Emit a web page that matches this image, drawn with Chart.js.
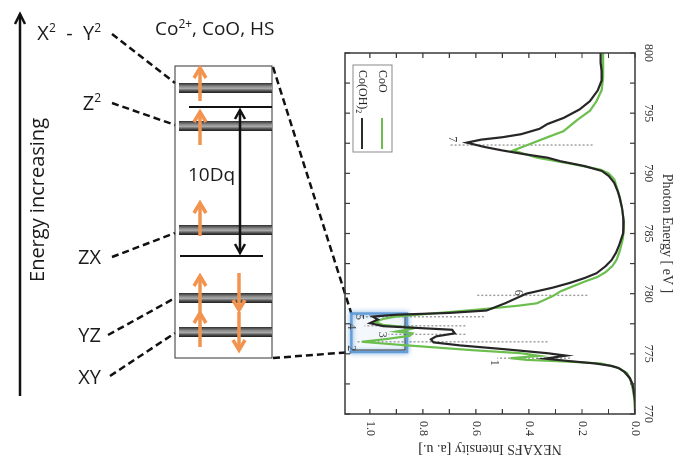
<!DOCTYPE html>
<html>
<head>
<meta charset="utf-8">
<script src="https://cdn.jsdelivr.net/npm/chart.js@4.4.0/dist/chart.umd.min.js"></script>
<style>
  html, body { margin: 0; padding: 0; background: #fff; }
  #wrap { position: relative; width: 675px; height: 457px; overflow: hidden; }
  #diagram { position: absolute; left: 0; top: 0; }
  /* spectrum is drawn upright then turned a quarter clockwise */
  #spectrum { position: absolute; left: 675px; top: 30px; transform-origin: 0 0; transform: rotate(90deg); }
</style>
</head>
<body>
<div id="wrap">
  <canvas id="diagram" width="675" height="457"></canvas>
  <canvas id="spectrum" width="427" height="335"></canvas>
</div>
<script>
/* Spectrum data: photon energy [eV] and NEXAFS intensity [a.u.] */
const coohEnergy = [770, 771, 772, 772.5, 773, 773.5, 773.8, 774.0, 774.2, 774.4, 774.6, 774.85, 775.05, 775.4, 775.7, 775.95,
  776.2, 776.45, 776.7, 777.0, 777.3, 777.55, 777.85, 778.1, 778.25, 778.4, 778.6, 779.2, 779.7, 780.0, 780.2, 780.5, 780.9,
  781.3, 781.7, 782.3, 782.8, 783.4, 784.0, 785.0, 786.0, 787.0, 788.0, 788.5, 789.2, 789.8, 790.2, 790.6, 791.0, 791.3, 791.6,
  791.9, 792.2, 792.55, 792.8, 793.0, 793.25, 793.7, 794.1, 794.6, 795.3, 796.0, 796.9, 797.7, 798.5, 799.2, 800];
const coohIntensity = [0, 0, 0.005, 0.01, 0.02, 0.04, 0.06, 0.09, 0.15, 0.25, 0.34, 0.26, 0.33, 0.5, 0.66, 0.76,
  0.77, 0.75, 0.68, 0.69, 0.95, 1.0, 0.97, 0.99, 0.9, 0.7, 0.56, 0.49, 0.44, 0.41, 0.37, 0.31, 0.245,
  0.19, 0.145, 0.11, 0.088, 0.072, 0.06, 0.045, 0.043, 0.048, 0.058, 0.065, 0.078, 0.1, 0.125, 0.19, 0.28, 0.33, 0.42,
  0.5, 0.57, 0.635, 0.58, 0.5, 0.43, 0.36, 0.33, 0.27, 0.21, 0.17, 0.14, 0.126, 0.126, 0.13, 0.13];

const cooEnergy = [770, 771.4, 772.6, 773.4, 773.9, 774.2, 774.36, 774.5, 774.64, 774.83, 775.05, 775.3, 775.75, 776.0,
  776.25, 776.5, 776.7, 776.85, 777.0, 777.15, 777.4, 777.65, 777.9, 778.1, 778.4, 778.7, 779.0, 779.2, 779.5, 779.8,
  780.2, 780.6, 781.0, 781.4, 781.8, 782.3, 782.8, 783.4, 784.0, 784.6, 785.4, 786.3, 787.3, 788.4, 789.5, 790.0, 790.3,
  790.75, 791.3, 791.9, 792.4, 793.0, 793.5, 794.4, 795.2, 796.0, 796.9, 798.0, 799.0, 800];
const cooIntensity = [0, 0.003, 0.013, 0.03, 0.07, 0.13, 0.26, 0.41, 0.47, 0.36, 0.43, 0.61, 0.89, 1.03,
  0.93, 0.85, 0.84, 0.9, 0.86, 0.83, 0.95, 0.98, 0.95, 0.9, 0.74, 0.58, 0.44, 0.37, 0.34, 0.31,
  0.28, 0.235, 0.19, 0.14, 0.11, 0.085, 0.07, 0.06, 0.052, 0.046, 0.042, 0.044, 0.05, 0.062, 0.078, 0.1, 0.13,
  0.23, 0.37, 0.46, 0.40, 0.33, 0.27, 0.22, 0.17, 0.145, 0.126, 0.12, 0.12, 0.12];

// numbered features: energy, dotted span, label spot
const peakLabels = ['1', '2', '3', '4', '5', '6', '7'];
const peakEnergy = [774.64, 776.0, 776.62, 777.33, 778.08, 779.86, 792.35];
const peakLow = [0.245, 0.33, 0.64, 0.64, 0.57, 0.18, 0.16];
const peakHigh = [0.52, 1.05, 0.93, 1.02, 1.04, 0.60, 0.70];
const peakLabelEnergy = [774.25, 775.47, 776.58, 777.28, 778.06, 780.08, 792.83];
const peakLabelIntensity = [0.53, 1.07, 0.955, 1.07, 1.04, 0.44, 0.69];

// zoom window on the L3 edge
const zoomEnergy = [775.15, 778.35];
const zoomIntensity = [0.86, 1.07];

const energyTicks = [770, 775, 780, 785, 790, 795, 800];
const intensityTicks = [0.0, 0.2, 0.4, 0.6, 0.8, 1.0];

/* Level diagram (d-orbitals, Co2+ high spin) */
const orbitalNames = [['X', '2', '  -  Y', '2'], ['Z', '2'], ['ZX'], ['YZ'], ['XY']];
const orbitalLevel = [88, 126, 230, 298, 332];
const orbitalLabelY = [33, 103, 257, 335, 377];
const orbitalLabelRight = [101, 101, 101, 101, 101];
const spinUp = [[101, 68], [145, 112], [236, 203], [313, 276], [347, 313]];
const spinDown = [null, null, null, [273, 310], [312, 350]];

const serif = '"Liberation Serif", "DejaVu Serif", serif';
const sans = '"Open Sans", "Noto Sans", sans-serif';

const toPoints = (xs, ys) => xs.map((x, i) => ({ x: x, y: ys[i] }));

const spectrumDecor = {
  id: 'spectrumDecor',
  beforeDatasetsDraw(chart) {
    const ctx = chart.ctx, xs = chart.scales.x, ys = chart.scales.y;
    ctx.save();
    // dotted feature markers
    ctx.strokeStyle = '#9a9a9a';
    ctx.lineWidth = 1.4;
    ctx.setLineDash([2, 2]);
    peakEnergy.forEach((e, i) => {
      const px = xs.getPixelForValue(e);
      ctx.beginPath();
      ctx.moveTo(px, ys.getPixelForValue(peakLow[i]));
      ctx.lineTo(px, ys.getPixelForValue(peakHigh[i]));
      ctx.stroke();
    });
    ctx.setLineDash([]);
    // blue zoom box
    const x1 = xs.getPixelForValue(zoomEnergy[1]), x2 = xs.getPixelForValue(zoomEnergy[0]);
    const y1 = ys.getPixelForValue(zoomIntensity[0]), y2 = ys.getPixelForValue(zoomIntensity[1]);
    ctx.fillStyle = 'rgba(150,190,230,0.10)';
    ctx.fillRect(x1, y1, x2 - x1, y2 - y1);
    ctx.shadowColor = 'rgba(70,140,210,0.9)';
    ctx.shadowBlur = 5;
    ctx.strokeStyle = 'rgba(95,155,215,0.95)';
    ctx.lineWidth = 2.5;
    ctx.strokeRect(x1, y1, x2 - x1, y2 - y1);
    ctx.shadowBlur = 0;
    ctx.strokeStyle = '#333';
    ctx.lineWidth = 1;
    ctx.beginPath();
    ctx.moveTo(x1 + 1, y1 + 2);
    ctx.lineTo(x2 - 2, y1 + 2);
    ctx.lineTo(x2 - 2, y2 - 1);
    ctx.stroke();
    ctx.restore();
  },
  afterDraw(chart) {
    const ctx = chart.ctx, a = chart.chartArea, xs = chart.scales.x, ys = chart.scales.y;
    ctx.save();
    // frame with inward ticks on all sides
    ctx.strokeStyle = '#3a3a3a';
    ctx.lineWidth = 1.5;
    ctx.strokeRect(a.left, a.top, a.right - a.left, a.bottom - a.top);
    ctx.lineWidth = 1.2;
    ctx.beginPath();
    for (let e = 770; e <= 800; e += 2.5) {
      const px = xs.getPixelForValue(e);
      ctx.moveTo(px, a.top); ctx.lineTo(px, a.top + 5);
      ctx.moveTo(px, a.bottom); ctx.lineTo(px, a.bottom - 5);
    }
    for (let k = 0; k <= 10; k++) {
      const py = ys.getPixelForValue(k / 10);
      ctx.moveTo(a.left, py); ctx.lineTo(a.left + 5, py);
      ctx.moveTo(a.right, py); ctx.lineTo(a.right - 5, py);
    }
    ctx.stroke();
    // feature numbers
    ctx.fillStyle = '#444';
    ctx.font = '12px ' + serif;
    ctx.textAlign = 'center';
    ctx.textBaseline = 'middle';
    peakLabels.forEach((t, i) => {
      ctx.fillText(t, xs.getPixelForValue(peakLabelEnergy[i]), ys.getPixelForValue(peakLabelIntensity[i]));
    });
    // legend box, bottom-left of the plot
    const lx = a.left + 12, ly = a.bottom - 47;
    ctx.strokeStyle = '#8a8a8a';
    ctx.lineWidth = 1;
    ctx.strokeRect(lx, ly, 87, 39);
    ctx.textAlign = 'left';
    ctx.fillStyle = '#222';
    const rows = [
      { y: ly + 10, parts: [['CoO', 0]], color: '#6cbf4f' },
      { y: ly + 30, parts: [['Co(OH)', 0], ['2', 1]], color: '#2b2b2b' }
    ];
    rows.forEach(r => {
      let x = lx + 5;
      r.parts.forEach(p => {
        ctx.font = (p[1] ? '8px ' : '12px ') + serif;
        ctx.fillText(p[0], x, r.y + (p[1] ? 4 : 0));
        x += ctx.measureText(p[0]).width;
      });
      ctx.strokeStyle = r.color;
      ctx.lineWidth = 2;
      ctx.beginPath();
      ctx.moveTo(lx + 53, r.y);
      ctx.lineTo(lx + 84, r.y);
      ctx.stroke();
    });
    ctx.restore();
  }
};

const noPad = s => { s.paddingTop = 0; s.paddingBottom = 0; s.paddingLeft = 0; s.paddingRight = 0; };

const spectrum = new Chart(document.getElementById('spectrum'), {
  type: 'scatter',
  data: {
    datasets: [
      { label: 'Co(OH)2', data: toPoints(coohEnergy, coohIntensity), showLine: true,
        borderColor: '#262626', borderWidth: 2.2, pointRadius: 0 },
      { label: 'CoO', data: toPoints(cooEnergy, cooIntensity), showLine: true,
        borderColor: '#6cbf4f', borderWidth: 2.2, pointRadius: 0 }
    ]
  },
  options: {
    responsive: false,
    animation: false,
    devicePixelRatio: 1,
    layout: { padding: { left: 23, right: 0, top: 0, bottom: 5 } },
    plugins: { legend: { display: false }, tooltip: { enabled: false } },
    scales: {
      x: {
        type: 'linear', position: 'top', reverse: true, min: 770, max: 800,
        grid: { display: false, drawTicks: false }, border: { display: false },
        afterBuildTicks: s => { s.ticks = energyTicks.map(v => ({ value: v })); },
        ticks: { maxRotation: 0, padding: 6, color: '#333', font: { family: serif, size: 12 },
                 callback: v => String(v) },
        title: { display: true, text: 'Photon Energy [ eV ]', color: '#333', padding: 0,
                 font: { family: serif, size: 14 } },
        afterFit: s => { s.height = 40; noPad(s); }
      },
      y: {
        type: 'linear', position: 'right', reverse: true, min: 0, max: 1.094,
        grid: { display: false, drawTicks: false }, border: { display: false },
        afterBuildTicks: s => { s.ticks = intensityTicks.map(v => ({ value: v })); },
        ticks: { padding: 7, color: '#333', font: { family: serif, size: 12 },
                 callback: v => Number(v).toFixed(1) },
        title: { display: true, text: 'NEXAFS Intensity [a. u.]', color: '#333', padding: 0,
                 font: { family: serif, size: 14 } },
        afterFit: s => { s.width = 43; noPad(s); }
      }
    }
  },
  plugins: [spectrumDecor]
});

// where the spectrum's zoom box lands on the page (canvas turned 90deg clockwise)
function zoomCorner(e, inten) {
  const px = spectrum.scales.x.getPixelForValue(e);
  const py = spectrum.scales.y.getPixelForValue(inten);
  return { x: 675 - py, y: 30 + px };
}

function richText(ctx, parts, x, y, size) {
  let cx = x;
  parts.forEach((p, i) => {
    const sup = i % 2 === 1;
    ctx.font = (sup ? Math.round(size * 0.62) : size) + 'px ' + sans;
    ctx.fillText(p, cx, sup ? y - size * 0.38 : y);
    cx += ctx.measureText(p).width;
  });
  return cx - x;
}

function chevron(ctx, x, tipY, dir, w, h) {
  ctx.beginPath();
  ctx.moveTo(x - w, tipY - dir * h);
  ctx.lineTo(x, tipY);
  ctx.lineTo(x + w, tipY - dir * h);
  ctx.stroke();
}

const diagramDraw = {
  id: 'diagramDraw',
  afterDraw(chart) {
    const ctx = chart.ctx, xs = chart.scales.x, ys = chart.scales.y;
    const X = v => xs.getPixelForValue(v), Y = v => ys.getPixelForValue(v);
    ctx.save();
    ctx.lineCap = 'butt';
    // energy axis arrow
    ctx.strokeStyle = '#111';
    ctx.lineWidth = 2.5;
    ctx.beginPath(); ctx.moveTo(X(20), Y(396)); ctx.lineTo(X(20), Y(14)); ctx.stroke();
    chevron(ctx, X(20), Y(14), -1, 5, 10);
    ctx.fillStyle = '#1a1a1a';
    ctx.font = '20px ' + sans;
    ctx.textAlign = 'center';
    ctx.textBaseline = 'middle';
    ctx.save();
    ctx.translate(X(38), Y(200));
    ctx.rotate(-Math.PI / 2);
    ctx.fillText('Energy increasing', 0, 0);
    ctx.restore();
    // title
    ctx.textAlign = 'left';
    ctx.textBaseline = 'alphabetic';
    richText(ctx, ['Co', '2+', ', CoO, HS'], X(155), Y(35), 19);
    // orbital labels + dashed leaders
    orbitalNames.forEach((parts, i) => {
      let w = 0;
      parts.forEach((p, k) => {
        ctx.font = (k % 2 ? 12 : 20) + 'px ' + sans;
        w += ctx.measureText(p).width;
      });
      richText(ctx, parts, X(orbitalLabelRight[i]) - w, Y(orbitalLabelY[i] + 7), 20);
    });
    const leaders = [[112, 34, 175, 83], [112, 103, 175, 125], [112, 257, 175, 233], [108, 335, 175, 298], [110, 376, 175, 333]];
    ctx.strokeStyle = '#111';
    ctx.lineWidth = 2.5;
    ctx.setLineDash([7, 4]);
    leaders.forEach(l => {
      ctx.beginPath(); ctx.moveTo(X(l[0]), Y(l[1])); ctx.lineTo(X(l[2]), Y(l[3])); ctx.stroke();
    });
    // leaders to the spectrum zoom box
    const top = zoomCorner(zoomEnergy[1], zoomIntensity[1]);
    const bot = zoomCorner(zoomEnergy[0], zoomIntensity[1]);
    ctx.beginPath(); ctx.moveTo(X(273), Y(67)); ctx.lineTo(top.x, top.y); ctx.stroke();
    ctx.beginPath(); ctx.moveTo(X(273), Y(358)); ctx.lineTo(bot.x, bot.y); ctx.stroke();
    ctx.setLineDash([]);
    // level box
    ctx.strokeStyle = '#333';
    ctx.lineWidth = 1;
    ctx.strokeRect(X(175), Y(66), X(272) - X(175), Y(358) - Y(66));
    // level bars
    orbitalLevel.forEach(lv => {
      const y0 = Y(lv) - 5, h = 10;
      const g = ctx.createLinearGradient(0, y0, 0, y0 + h);
      g.addColorStop(0, '#2e2e2e');
      g.addColorStop(0.35, '#8c8c8c');
      g.addColorStop(0.55, '#a8a8a8');
      g.addColorStop(0.8, '#4a4a4a');
      g.addColorStop(1, '#1e1e1e');
      ctx.fillStyle = g;
      ctx.fillRect(X(179), y0, X(272) - X(179), h);
    });
    // barycentre lines and 10Dq arrow
    ctx.strokeStyle = '#111';
    ctx.lineWidth = 2;
    ctx.beginPath(); ctx.moveTo(X(189), Y(107)); ctx.lineTo(X(272), Y(107)); ctx.stroke();
    ctx.beginPath(); ctx.moveTo(X(180), Y(256)); ctx.lineTo(X(263), Y(256)); ctx.stroke();
    ctx.lineWidth = 2.5;
    ctx.beginPath(); ctx.moveTo(X(240), Y(111)); ctx.lineTo(X(240), Y(252)); ctx.stroke();
    chevron(ctx, X(240), Y(110), -1, 5, 9);
    chevron(ctx, X(240), Y(253), 1, 5, 9);
    ctx.fillStyle = '#1a1a1a';
    ctx.font = '19px ' + sans;
    ctx.fillText('10Dq', X(188), Y(181));
    // spins
    ctx.strokeStyle = '#f29450';
    ctx.lineWidth = 3.5;
    spinUp.forEach(s => {
      ctx.beginPath(); ctx.moveTo(X(200), Y(s[0])); ctx.lineTo(X(200), Y(s[1]) + 2); ctx.stroke();
      chevron(ctx, X(200), Y(s[1]), -1, 6, 10);
    });
    spinDown.forEach(s => {
      if (!s) return;
      ctx.beginPath(); ctx.moveTo(X(239), Y(s[0])); ctx.lineTo(X(239), Y(s[1]) - 2); ctx.stroke();
      chevron(ctx, X(239), Y(s[1]), 1, 6, 10);
    });
    ctx.restore();
  }
};

new Chart(document.getElementById('diagram'), {
  type: 'scatter',
  data: { datasets: [] },
  options: {
    responsive: false,
    animation: false,
    devicePixelRatio: 1,
    layout: { padding: 0 },
    plugins: { legend: { display: false }, tooltip: { enabled: false } },
    scales: {
      x: { type: 'linear', min: 0, max: 675, display: false },
      y: { type: 'linear', min: 0, max: 457, reverse: true, display: false }
    }
  },
  plugins: [diagramDraw]
});
</script>
</body>
</html>
